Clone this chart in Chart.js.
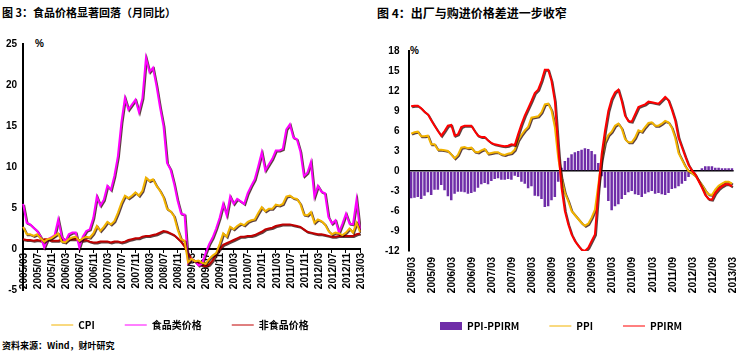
<!DOCTYPE html>
<html>
<head>
<meta charset="utf-8">
<script src="https://cdn.jsdelivr.net/npm/chart.js@4.4.1/dist/chart.umd.min.js"></script>
<style>
body { margin: 0; width: 750px; height: 352px; overflow: hidden; background: #fff; position: relative; }
.txt { position: absolute; color: #000; font-weight: bold; white-space: nowrap; font-family: "Noto Sans CJK SC", "Liberation Sans", sans-serif; }
canvas { position: absolute; top: 0; }
</style>
</head>
<body>
<div class="txt" style="left:2px;top:4px;font-size:11px;">图 3：食品价格显著回落（月同比）</div>
<div class="txt" style="left:377px;top:4px;font-size:12px;">图 4：出厂与购进价格差进一步收窄</div>
<div class="txt" style="left:35px;top:38px;font-size:10px;font-family:'Liberation Sans';">%</div>
<div class="txt" style="left:410px;top:45px;font-size:10px;font-family:'Liberation Sans';">%</div>
<div class="txt" style="left:2px;top:339px;font-size:9px;">资料来源：Wind，财叶研究</div>
<canvas id="leftChart" width="375" height="341" style="left:0"></canvas>
<canvas id="rightChart" width="375" height="341" style="left:375px"></canvas>
<script>
// monthly, 2005/03 .. 2013/03
const months = [];
for (let y = 2005; y <= 2013; y++) {
    for (let m = 1; m <= 12; m++) {
        if ((y === 2005 && m < 3) || (y === 2013 && m > 3)) continue;
        months.push(y + "/" + (m < 10 ? "0" + m : m));
    }
}

const leftTicks = ["2005/03", "2005/07", "2005/11", "2006/03", "2006/07", "2006/11", "2007/03", "2007/07", "2007/11",
    "2008/03", "2008/07", "2008/11", "2009/03", "2009/07", "2009/11", "2010/03", "2010/07", "2010/11",
    "2011/03", "2011/07", "2011/11", "2012/03", "2012/07", "2012/11", "2013/03"];
const rightTicks = ["2005/03", "2005/09", "2006/03", "2006/09", "2007/03", "2007/09", "2008/03", "2008/09",
    "2009/03", "2009/09", "2010/03", "2010/09", "2011/03", "2011/09", "2012/03", "2012/09", "2013/03"];

const cpi = [
    2.7, 1.8, 1.8, 1.6, 1.8, 1.3, 0.9, 1.2, 1.3, 1.6,
    1.9, 0.9, 0.8, 1.2, 1.4, 1.5, 1.0, 1.3, 1.5, 1.4, 1.9, 2.8,
    2.2, 2.7, 3.3, 3.0, 3.4, 4.4, 5.6, 6.5, 6.2, 6.5, 6.9, 6.5,
    7.1, 8.7, 8.3, 8.5, 7.7, 7.1, 6.3, 4.9, 4.6, 4.0, 2.4, 1.2,
    1.0, -1.6, -1.2, -1.5, -1.4, -1.7, -1.8, -1.2, -0.8, -0.5, 0.6, 1.9,
    1.5, 2.7, 2.4, 2.8, 3.1, 2.9, 3.3, 3.5, 3.6, 4.4, 5.1, 4.6,
    4.9, 4.9, 5.4, 5.3, 5.5, 6.4, 6.5, 6.2, 6.1, 5.5, 4.2, 4.1,
    4.5, 3.2, 3.6, 3.4, 3.0, 2.2, 1.8, 2.0, 1.9, 1.7, 2.0, 2.5,
    2.0, 3.2, 2.1];
const food = [
    5.5, 3.2, 3.0, 2.6, 2.2, 1.5, 0.2, 1.2, 1.4, 1.7,
    3.6, 1.5, 0.9, 1.8, 2.0, 2.0, 0.2, 1.5, 2.2, 2.4, 3.8, 6.4,
    5.3, 6.0, 7.7, 7.2, 8.9, 11.3, 15.4, 18.4, 17.0, 17.6, 18.2, 16.7,
    18.4, 23.3, 21.6, 22.1, 19.9, 17.3, 15.0, 10.5, 9.7, 8.0, 5.9, 4.3,
    4.2, -1.7, -1.2, -1.5, -2.0, -1.8, -0.5, 0.6, 1.4, 2.5, 3.8, 5.5,
    4.1, 6.4, 5.5, 6.1, 5.8, 5.5, 6.8, 7.7, 8.5, 10.1, 11.8, 9.6,
    10.3, 11.0, 12.0, 12.0, 12.2, 14.6, 15.2, 13.6, 13.4, 11.9, 8.9, 9.3,
    10.6, 6.4, 7.7, 7.0, 6.8, 3.9, 3.1, 3.5, 2.0, 3.1, 4.3, 3.1,
    3.0, 6.0, 2.2];
const nonFood = [
    1.2, 1.1, 1.1, 1.0, 1.1, 1.0, 1.2, 1.2, 1.0, 1.0,
    1.0, 1.2, 1.1, 1.2, 1.2, 1.2, 1.1, 1.0, 1.1, 0.9, 0.8, 0.8,
    0.9, 0.9, 0.9, 0.8, 0.9, 0.9, 0.8, 0.9, 1.1, 1.2, 1.3, 1.3,
    1.5, 1.6, 1.6, 1.7, 1.8, 2.0, 2.2, 2.1, 1.9, 1.7, 1.3, 0.9,
    0.3, -0.6, -1.2, -1.5, -1.7, -2.0, -2.1, -1.9, -1.4, -0.6, 0.0, 0.5,
    0.7, 0.9, 1.1, 1.3, 1.5, 1.5, 1.6, 1.6, 1.7, 1.9, 2.1, 2.4,
    2.5, 2.6, 2.8, 2.9, 3.0, 3.0, 3.0, 2.9, 2.8, 2.7, 2.4, 2.1,
    2.0, 1.9, 1.8, 1.8, 1.7, 1.6, 1.5, 1.5, 1.6, 1.6, 1.6, 1.6,
    1.6, 1.8, 1.9];

const ppi = [
    5.6, 5.8, 5.9, 5.2, 5.2, 5.3, 4.0, 4.0, 3.2, 3.2,
    3.1, 3.0, 2.5, 1.9, 2.4, 3.5, 3.6, 3.4, 3.5, 2.9, 2.8, 3.1,
    3.3, 2.6, 2.7, 2.8, 2.8, 2.5, 2.4, 2.6, 2.7, 3.2, 4.6, 5.4,
    6.1, 6.6, 8.0, 8.1, 8.2, 8.8, 10.0, 10.1, 9.1, 6.6, 2.0, -1.1,
    -3.3, -4.5, -6.0, -6.6, -7.2, -7.8, -8.2, -7.9, -7.0, -5.8, -2.1, 1.7,
    4.3, 5.4, 5.9, 6.8, 7.1, 6.4, 4.8, 4.3, 4.3, 5.0, 6.1, 5.9,
    6.6, 7.2, 7.3, 6.8, 6.8, 7.1, 7.5, 7.3, 6.5, 5.0, 2.7, 1.7,
    0.7, 0.0, -0.3, -0.7, -1.4, -2.1, -2.9, -3.5, -3.6, -2.8, -2.2, -1.9,
    -1.6, -1.6, -1.9];
const ppirm = [
    9.7, 9.8, 9.8, 9.4, 8.9, 8.5, 7.6, 6.8, 6.0, 5.3,
    6.0, 6.8, 6.9, 5.3, 5.5, 6.6, 6.8, 6.8, 6.8, 6.0, 5.3, 5.1,
    5.1, 4.6, 4.2, 4.0, 3.9, 3.8, 3.7, 3.8, 4.0, 3.9, 5.5, 7.0,
    8.3, 9.4, 10.5, 11.7, 12.2, 13.5, 15.2, 15.2, 13.5, 10.5, 3.6, -2.5,
    -6.0, -8.0, -9.5, -10.5, -11.2, -11.8, -12.0, -11.5, -10.5, -9.5, -3.0, 2.5,
    6.0, 9.0, 10.8, 11.8, 12.2, 10.5, 8.3, 7.5, 7.4, 8.5, 9.6, 9.8,
    10.0, 10.4, 10.3, 10.2, 10.1, 10.6, 11.1, 10.6, 9.2, 7.6, 5.0, 3.6,
    2.2, 0.9, 0.1, -0.5, -1.5, -2.5, -3.6, -4.2, -4.3, -3.3, -2.7, -2.3,
    -2.0, -2.0, -2.3];
const spread = [
    -4.1, -4.0, -3.9, -4.2, -3.7, -3.2, -3.6, -2.8, -2.8, -2.1,
    -2.9, -3.8, -4.4, -3.4, -3.1, -3.1, -3.2, -3.4, -3.3, -3.1, -2.5, -2.0,
    -1.8, -2.0, -1.5, -1.2, -1.1, -1.3, -1.3, -1.2, -1.3, -0.7, -0.9, -1.6,
    -1.9, -2.6, -2.3, -3.7, -3.8, -4.2, -5.4, -5.3, -4.4, -3.9, -1.6, 0.5,
    1.5, 2.0, 2.5, 2.8, 3.0, 3.2, 3.4, 3.3, 3.0, 2.5, 1.2, -0.8,
    -2.5, -4.5, -5.9, -5.3, -5.0, -4.2, -3.6, -3.2, -3.0, -3.5, -3.6, -3.9,
    -3.4, -3.2, -3.0, -3.4, -3.3, -3.5, -3.6, -3.3, -2.7, -2.6, -2.3, -1.9,
    -1.5, -0.9, -0.4, -0.2, 0.1, 0.4, 0.7, 0.7, 0.7, 0.5, 0.5, 0.4,
    0.4, 0.4, 0.4];

// dark edge under the lines, like the old excel look
const lineEdge = {
    id: "lineEdge",
    beforeDatasetDraw(chart, args) {
        const c = chart.ctx;
        c.save();
        if (args.meta.type === "line") {
            c.shadowColor = "rgba(40,0,0,0.75)";
            c.shadowOffsetX = 1;
            c.shadowOffsetY = 1;
            c.shadowBlur = 0;
        }
    },
    afterDatasetDraw(chart) {
        chart.ctx.restore();
    }
};

function keepTicks(list) {
    return function (scale) {
        scale.ticks = scale.ticks.filter(t => list.includes(months[t.value]));
    };
}

Chart.defaults.font.family = "'Liberation Sans', 'Noto Sans CJK SC', sans-serif";
Chart.defaults.color = "#000";

const legendLabels = {
    usePointStyle: true,
    pointStyleWidth: 22,
    boxHeight: 8,
    padding: 30,
    color: "#000",
    sort: (a, b) => a.datasetIndex - b.datasetIndex,
    font: { size: 10, weight: "bold", family: "'Noto Sans CJK SC', 'Liberation Sans', sans-serif" }
};

new Chart(document.getElementById("leftChart"), {
    type: "line",
    data: {
        labels: months,
        datasets: [
            { label: "CPI", data: cpi, borderColor: "#F2B300", backgroundColor: "#F2B300", pointStyle: "line" },
            { label: "食品类价格", data: food, borderColor: "#FF00FF", backgroundColor: "#FF00FF", pointStyle: "line" },
            { label: "非食品价格", data: nonFood, borderColor: "#C00000", backgroundColor: "#C00000", pointStyle: "line" }
        ]
    },
    options: {
        responsive: false,
        animation: false,
        layout: { padding: { top: 44, right: 15, left: 0, bottom: 1 } },
        elements: { point: { radius: 0 }, line: { borderWidth: 2, tension: 0 } },
        plugins: {
            legend: { position: "bottom", labels: legendLabels },
            tooltip: { enabled: false }
        },
        scales: {
            x: {
                position: { y: 0 },
                offset: false,
                afterBuildTicks: keepTicks(leftTicks),
                afterFit: s => { s.height = 0; },
                grid: { drawOnChartArea: false, color: "#000", tickLength: 3 },
                border: { color: "#000", width: 2 },
                ticks: { autoSkip: false, minRotation: 90, maxRotation: 90, padding: 1, labelOffset: 1,
                         font: { size: 10, weight: "bold" } }
            },
            y: {
                min: -5,
                max: 25,
                ticks: { stepSize: 5, padding: 6, font: { size: 10, weight: "bold" } },
                grid: { drawOnChartArea: false, drawTicks: false },
                border: { color: "#000", width: 2 }
            }
        }
    },
    plugins: [lineEdge]
});

new Chart(document.getElementById("rightChart"), {
    type: "bar",
    data: {
        labels: months,
        datasets: [
            { label: "PPI-PPIRM", data: spread, backgroundColor: "#6F2DA8", pointStyle: "rect",
              barPercentage: 0.75, categoryPercentage: 1, order: 3 },
            { type: "line", label: "PPI", data: ppi, borderColor: "#F2B300", backgroundColor: "#F2B300",
              pointStyle: "line", order: 1 },
            { type: "line", label: "PPIRM", data: ppirm, borderColor: "#FF0000", backgroundColor: "#FF0000",
              pointStyle: "line", order: 0 }
        ]
    },
    options: {
        responsive: false,
        animation: false,
        layout: { padding: { top: 51, right: 3, left: 0, bottom: 0 } },
        elements: { point: { radius: 0 }, line: { borderWidth: 2, tension: 0 } },
        plugins: {
            // empty legend title only opens the gap under the rotated month labels
            legend: { position: "bottom", labels: legendLabels,
                      title: { display: true, text: " ", padding: 14, font: { size: 10 } } },
            tooltip: { enabled: false }
        },
        scales: {
            x: {
                position: { y: -12 },
                afterBuildTicks: keepTicks(rightTicks),
                afterFit: s => { s.height = 0; },
                grid: { display: false, drawTicks: false },
                border: { display: false },
                ticks: { autoSkip: false, minRotation: 90, maxRotation: 90, padding: 6, labelOffset: 1,
                         font: { size: 10, weight: "bold" } }
            },
            y: {
                min: -12,
                max: 18,
                ticks: { stepSize: 3, padding: 10, font: { size: 10, weight: "bold" } },
                grid: {
                    drawTicks: false,
                    color: ctx => ctx.tick && ctx.tick.value === 0 ? "#000" : "rgba(0,0,0,0)",
                    lineWidth: 1.5
                },
                border: { color: "#000", width: 2 }
            }
        }
    },
    plugins: [lineEdge]
});
</script>
</body>
</html>
